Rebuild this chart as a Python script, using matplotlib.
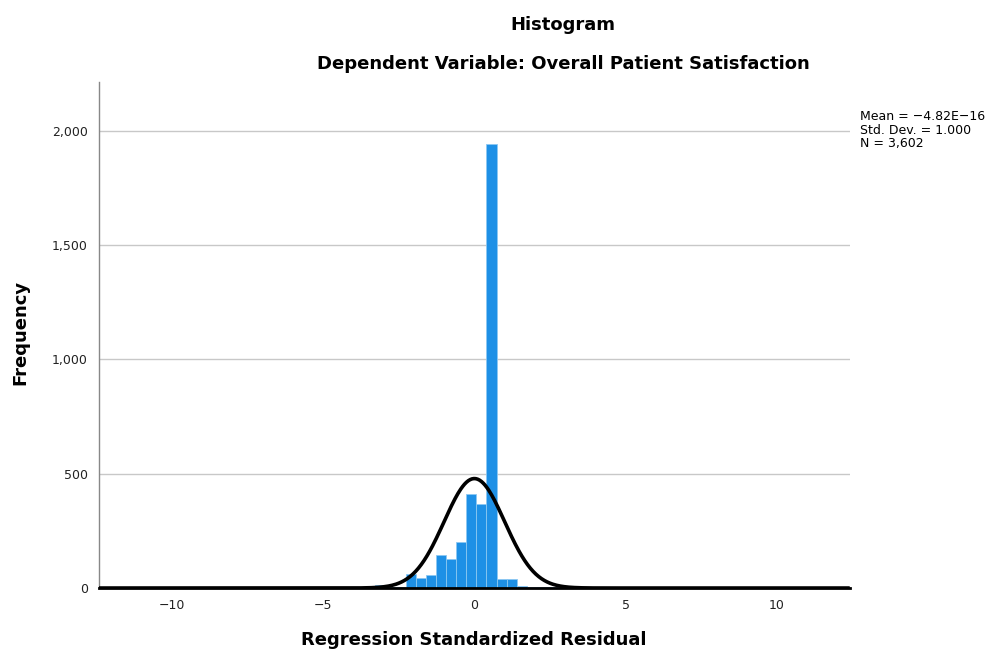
import numpy as np
import matplotlib
matplotlib.use('Agg')
import matplotlib.pyplot as plt
from matplotlib.ticker import FuncFormatter

# histogram of standardized residuals
bin_width = 1 / 3
bin_left = [-3.933, -3.600, -3.267, -2.933, -2.600, -2.267, -1.933, -1.600, -1.267,
            -0.933, -0.600, -0.267, 0.067, 0.400, 0.733, 1.067, 1.400, 1.733, 2.067, 2.400]
counts = [4, 2, 15, 5, 3, 61, 42, 55, 144,
          126, 201, 413, 369, 1942, 38, 38, 8, 6, 6, 3]

n_obs = 3602
mean_val = 0.0
std_val = 1.0
stats_lines = ['Mean = \u22124.82E\u221216', 'Std. Dev. = 1.000', 'N = 3,602']

fig = plt.figure(figsize=(9.95, 6.53), dpi=100)
ax = fig.add_axes([0.0995, 0.0995, 0.7545, 0.7745])

ax.bar(bin_left, counts, width=bin_width, align='edge',
       color='#1e90e6', edgecolor='#8cc8f2', linewidth=0.6, zorder=2)

# normal curve scaled to the histogram
xs = np.linspace(-12.4, 12.4, 800)
ys = n_obs * bin_width * np.exp(-0.5 * ((xs - mean_val) / std_val) ** 2) / (std_val * np.sqrt(2 * np.pi))
ax.plot(xs, ys, color='black', linewidth=2.6, zorder=3, solid_capstyle='butt')

ax.set_xlim(-12.4, 12.4)
ax.set_ylim(0, 2213)
ax.set_yticks([0, 500, 1000, 1500, 2000])
ax.set_xticks([-10, -5, 0, 5, 10])
ax.yaxis.set_major_formatter(FuncFormatter(lambda v, p: f'{int(v):,}'))
ax.yaxis.grid(True, color='#c8c8c8', linewidth=1.0, zorder=0)
ax.set_axisbelow(True)
ax.tick_params(axis='both', length=0, labelsize=9, colors='#222222', pad=8)
for s in ['top', 'right']:
    ax.spines[s].set_visible(False)
ax.spines['left'].set_color('#888888')
ax.spines['left'].set_linewidth(1.0)
ax.spines['bottom'].set_color('black')
ax.spines['bottom'].set_linewidth(2.0)

fig.text(20 / 995, 1 - 332 / 653, 'Frequency', rotation=90, ha='center', va='center',
         fontsize=13, fontweight='bold')
fig.text(474 / 995, 1 - 640 / 653, 'Regression Standardized Residual', ha='center', va='center',
         fontsize=13, fontweight='bold')

fig.text(563 / 995, 1 - 25 / 653, 'Histogram', ha='center', va='center',
         fontsize=13, fontweight='bold')
fig.text(563 / 995, 1 - 64 / 653, 'Dependent Variable: Overall Patient Satisfaction',
         ha='center', va='center', fontsize=13, fontweight='bold')

fig.text(860 / 995, 1 - 110 / 653, '\n'.join(stats_lines), ha='left', va='top',
         fontsize=9, linespacing=1.05)

fig.savefig('out.png', dpi=100)
